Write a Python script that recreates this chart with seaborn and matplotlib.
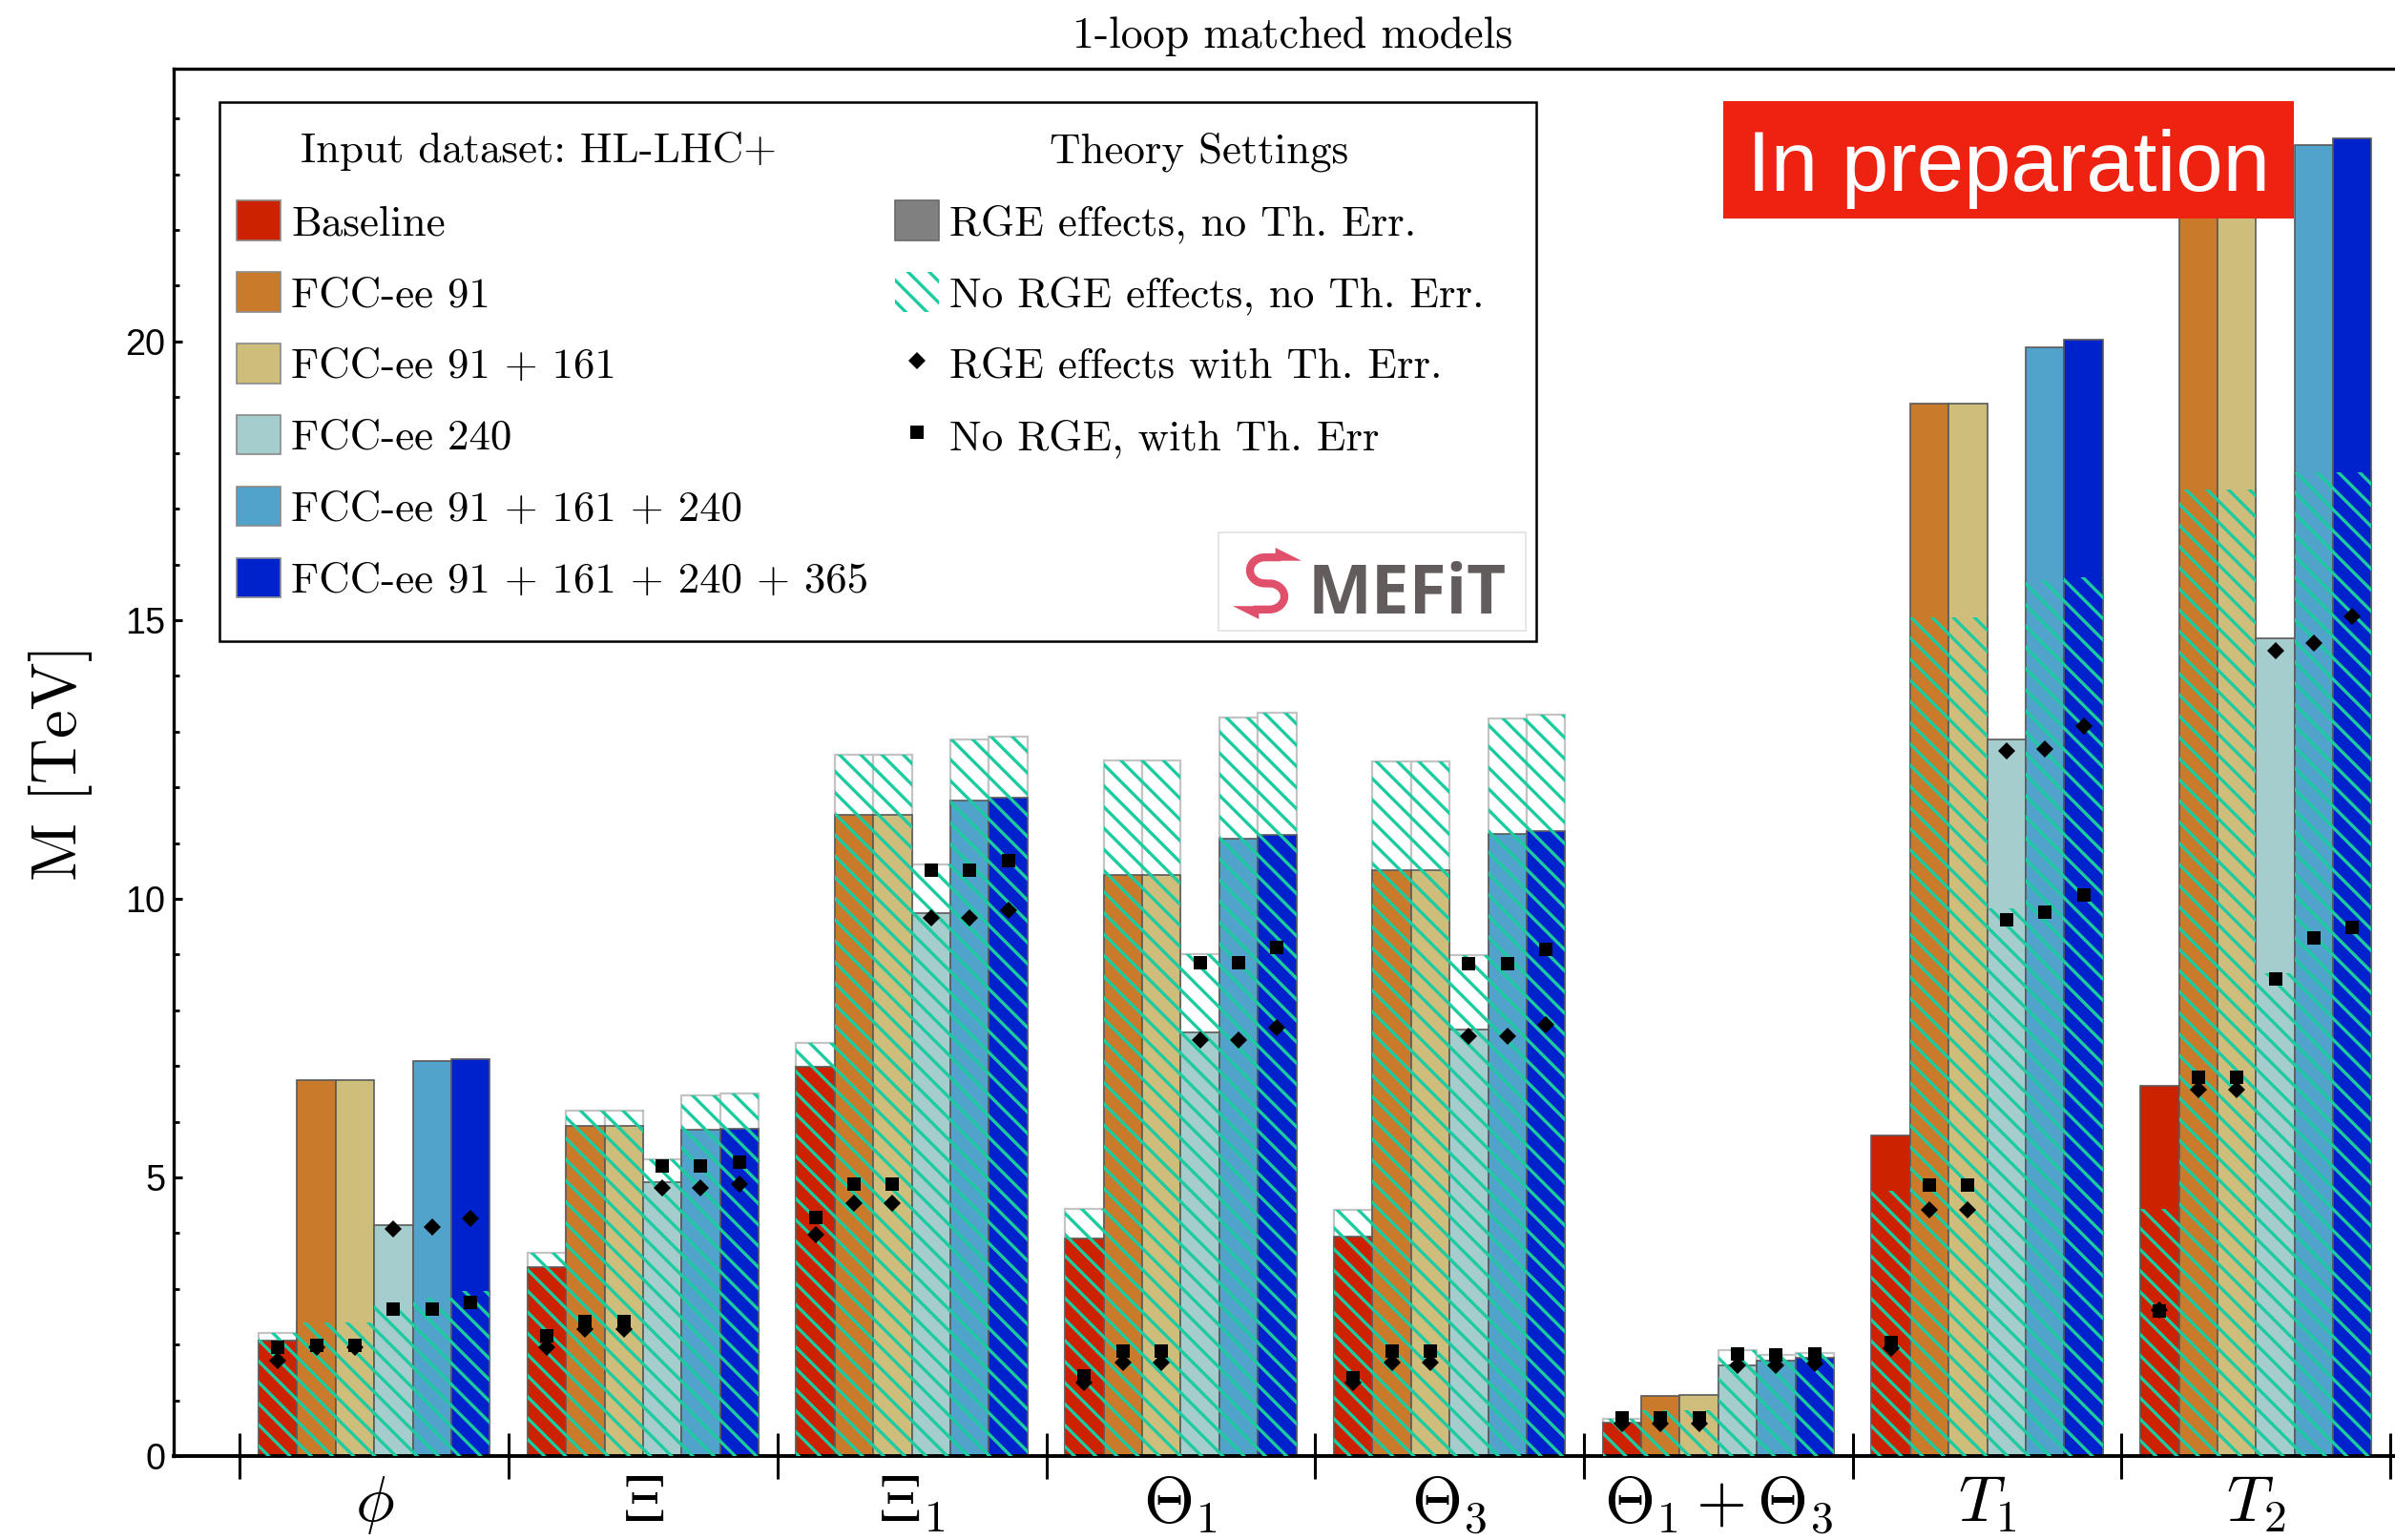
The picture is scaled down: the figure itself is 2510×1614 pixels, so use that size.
import numpy as np
import pandas as pd
import matplotlib
matplotlib.use("Agg")
import matplotlib.pyplot as plt
from matplotlib.patches import Patch, Rectangle, Polygon
from matplotlib.lines import Line2D
from matplotlib.ticker import MultipleLocator, FixedLocator, NullFormatter
import seaborn as sns

# ---------------------------------------------------------------- data ----
models = [r"$\phi$", r"$\Xi$", r"$\Xi_1$", r"$\Theta_1$", r"$\Theta_3$",
          r"$\Theta_1 + \Theta_3$", r"$T_1$", r"$T_2$"]
datasets = ["Baseline", "FCC-ee 91", "FCC-ee 91 + 161", "FCC-ee 240",
            "FCC-ee 91 + 161 + 240", "FCC-ee 91 + 161 + 240 + 365"]
dataset_colors = ["#CC2200", "#C97A2A", "#CFBD7B", "#A6CDCD", "#52A3CB", "#0022CC"]

# 95% CL lower bounds on the heavy mass M [TeV]; one row per model,
# one entry per input dataset (order as in `datasets`)
rge_no_err = [
    [2.08, 6.75, 6.75, 4.15, 7.09, 7.13],
    [3.39, 5.92, 5.92, 4.92, 5.86, 5.87],
    [6.99, 11.51, 11.51, 9.74, 11.76, 11.81],
    [3.91, 10.43, 10.43, 7.60, 11.07, 11.14],
    [3.93, 10.51, 10.51, 7.66, 11.16, 11.22],
    [0.60, 1.08, 1.10, 1.62, 1.71, 1.76],
    [5.75, 18.88, 18.88, 12.86, 19.89, 20.03],
    [6.64, 22.80, 22.80, 14.67, 23.53, 23.64],
]
norge_no_err = [
    [2.21, 2.40, 2.40, 2.71, 2.85, 2.97],
    [3.64, 6.19, 6.19, 5.32, 6.47, 6.50],
    [7.41, 12.58, 12.58, 10.62, 12.86, 12.91],
    [4.43, 12.49, 12.49, 9.01, 13.25, 13.33],
    [4.41, 12.47, 12.47, 8.99, 13.23, 13.31],
    [0.67, 0.82, 0.83, 1.90, 1.82, 1.85],
    [4.76, 15.05, 15.05, 9.82, 15.71, 15.77],
    [4.43, 17.34, 17.34, 8.66, 17.66, 17.66],
]
rge_with_err = [
    [1.72, 1.95, 1.95, 4.07, 4.11, 4.27],
    [1.96, 2.27, 2.27, 4.81, 4.81, 4.88],
    [3.98, 4.53, 4.53, 9.65, 9.65, 9.79],
    [1.31, 1.67, 1.67, 7.47, 7.47, 7.69],
    [1.31, 1.67, 1.67, 7.53, 7.53, 7.74],
    [0.58, 0.58, 0.58, 1.62, 1.62, 1.66],
    [1.93, 4.41, 4.41, 12.65, 12.69, 13.10],
    [2.62, 6.57, 6.57, 14.45, 14.59, 15.06],
]
norge_with_err = [
    [1.96, 1.98, 1.98, 2.63, 2.63, 2.76],
    [2.15, 2.41, 2.41, 5.21, 5.21, 5.28],
    [4.28, 4.88, 4.88, 10.52, 10.52, 10.68],
    [1.43, 1.89, 1.89, 8.85, 8.85, 9.13],
    [1.40, 1.89, 1.89, 8.84, 8.84, 9.10],
    [0.68, 0.68, 0.68, 1.83, 1.82, 1.84],
    [2.04, 4.87, 4.87, 9.63, 9.76, 10.06],
    [2.60, 6.80, 6.80, 8.56, 9.29, 9.48],
]

rows = []
for i, model in enumerate(models):
    for j, ds in enumerate(datasets):
        rows.append(dict(model=model, dataset=ds,
                         rge=rge_no_err[i][j], norge=norge_no_err[i][j],
                         rge_err=rge_with_err[i][j], norge_err=norge_with_err[i][j]))
df = pd.DataFrame(rows)

# ---------------------------------------------------------------- style ---
plt.rcParams.update({
    "font.family": "cmr10",
    "mathtext.fontset": "cm",
    "axes.unicode_minus": False,
    "axes.formatter.use_mathtext": True,
    "hatch.linewidth": 1.2,
})

HATCH = "#1CCB9F"
HATCH_PATTERN = "\\\\\\"
SPAN = 0.86          # total width of one model group
W, H, DPI = 2510, 1614, 200
D_SIZE, S_SIZE = 4.4, 5.0


def px(x0, y0, x1, y1):
    """Figure-fraction rectangle from pixel corners (origin top-left)."""
    return [x0 / W, 1 - y1 / H, (x1 - x0) / W, (y1 - y0) / H]


fig = plt.figure(figsize=(W / DPI, H / DPI), dpi=DPI)
ax = fig.add_axes(px(181.7, 71.7, W, 1526))

common = dict(data=df, x="model", order=models, hue="dataset", hue_order=datasets,
              width=SPAN, gap=0, dodge=True, errorbar=None, saturation=1,
              legend=False, ax=ax)

# white backing for the no-RGE bounds (visible where they exceed the RGE bars)
sns.barplot(y="norge", palette=["white"] * len(datasets),
            edgecolor="#c4c4c4", linewidth=0.8, zorder=1, **common)
# solid bars: RGE effects, no theory error
sns.barplot(y="rge", palette=dataset_colors,
            edgecolor="#5a5a5a", linewidth=0.6, zorder=2, **common)
# hatched overlay: no RGE effects, no theory error
n_before = len(ax.patches)
sns.barplot(y="norge", palette=["white"] * len(datasets),
            linewidth=0, zorder=3, **common)
for p in ax.patches[n_before:]:
    p.set_facecolor("none")
    p.set_edgecolor(HATCH)
    p.set_linewidth(0)
    p.set_hatch(HATCH_PATTERN)

# markers: bounds including theory errors
dodge = SPAN * (len(datasets) - 1) / len(datasets)
marker_common = dict(data=df, x="model", order=models, hue="dataset", hue_order=datasets,
                     palette=["black"] * len(datasets), linestyles="none", dodge=dodge,
                     errorbar=None, legend=False, markeredgewidth=0, ax=ax)
sns.pointplot(y="rge_err", markers="D", markersize=D_SIZE, zorder=6, **marker_common)
sns.pointplot(y="norge_err", markers="s", markersize=S_SIZE, zorder=6, **marker_common)

# ---------------------------------------------------------------- axes ----
ax.set_xlim(-0.747, 7.517)
ax.set_ylim(0, 24.9)
ax.set_xlabel("")
ax.set_ylabel("M [TeV]", fontsize=24)
ax.yaxis.set_label_coords(-0.0506, 0.5)
ax.yaxis.label.set_va("center")

ax.xaxis.set_major_locator(FixedLocator(np.arange(-0.5, len(models), 1.0)))
ax.xaxis.set_major_formatter(NullFormatter())
ax.xaxis.set_minor_locator(FixedLocator(np.arange(len(models))))
ax.set_xticklabels(models, minor=True, fontsize=24.5)
ax.tick_params(axis="x", which="major", direction="inout", length=17, width=1.1,
               bottom=True, top=False)
ax.tick_params(axis="x", which="minor", length=0, pad=7, bottom=True, top=False)

ax.yaxis.set_major_locator(MultipleLocator(5))
ax.yaxis.set_minor_locator(MultipleLocator(1))
ax.tick_params(axis="y", which="major", direction="in", length=3.3, width=1.1,
               pad=3.1, left=True, right=False)
ax.tick_params(axis="y", which="minor", direction="in", length=2.0, width=1.0,
               left=True, right=False)
for lab in ax.get_yticklabels():
    lab.set_fontfamily("Liberation Sans")
    lab.set_fontsize(13.6)

ax.spines["right"].set_visible(False)
for side, lw in (("top", 1.2), ("left", 1.2), ("bottom", 1.4)):
    ax.spines[side].set_linewidth(lw)
    ax.spines[side].set_color("black")

# ---------------------------------------------------------------- legend --
fs = 16.2
frame = px(230, 106.7, 1609.5, 671.6)
ax.add_patch(Rectangle((frame[0], frame[1]), frame[2], frame[3],
                       transform=fig.transFigure, facecolor="white",
                       edgecolor="black", linewidth=0.9, zorder=9, clip_on=False))

blank = Patch(facecolor="none", edgecolor="none")
handles = [blank] + [Patch(facecolor=c, edgecolor="#8a8a8a", linewidth=0.6)
                     for c in dataset_colors]
labels = [" "] + datasets
handles += [blank,
            Patch(facecolor="#808080", edgecolor="#6a6a6a", linewidth=0.6),
            Patch(facecolor="white", edgecolor=HATCH, linewidth=0, hatch=HATCH_PATTERN),
            Line2D([], [], marker="D", color="black", linestyle="none",
                   markersize=D_SIZE, markeredgewidth=0),
            Line2D([], [], marker="s", color="black", linestyle="none",
                   markersize=S_SIZE, markeredgewidth=0),
            blank, blank]
labels += [" ", "RGE effects, no Th. Err.", "No RGE effects, no Th. Err.",
           "RGE effects with Th. Err.", "No RGE, with Th. Err", " ", " "]
leg = ax.legend(handles, labels, ncol=2, loc="upper left",
                bbox_to_anchor=(248 / W, 1 - 135 / H), bbox_transform=fig.transFigure,
                borderaxespad=0, borderpad=0, frameon=False,
                prop=dict(family="cmr10", size=fs),
                handlelength=1.02, handleheight=1.05, handletextpad=0.25,
                columnspacing=0.61, labelspacing=0.66)
leg.set_zorder(10)

fig.text(315 / W, 1 - 170 / H, "Input dataset: HL-LHC+", fontsize=fs,
         family="cmr10", va="baseline", ha="left", zorder=12)
fig.text(1100.5 / W, 1 - 170 / H, "Theory Settings", fontsize=fs,
         family="cmr10", va="baseline", ha="left", zorder=12)

# title
fig.text(1355 / W, 1 - 50 / H, "1-loop matched models", fontsize=16.5,
         family="cmr10", ha="center", va="baseline")

# "In preparation" banner
banner = px(1806, 105.7, 2404, 228.7)
fig.add_artist(Rectangle((banner[0], banner[1]), banner[2], banner[3],
                         transform=fig.transFigure, facecolor="#EE2211",
                         edgecolor="none", zorder=4))
fig.text(2105 / W, 1 - 200 / H, "In preparation", fontsize=32, color="white",
         family="Liberation Sans", ha="center", va="baseline", zorder=5)

# SMEFiT logo
LOGO_RED = "#E0506A"
logo = px(1276.7, 558, 1599, 661)
fig.add_artist(Rectangle((logo[0], logo[1]), logo[2], logo[3],
                         transform=fig.transFigure, facecolor="white",
                         edgecolor="#e2e2e2", linewidth=0.6, zorder=13))
fig.text(1371 / W, 1 - 643 / H, "MEFiT", fontsize=25.5, color="#625D5C",
         family="Open Sans", weight="bold", ha="left", va="baseline", zorder=14)
icon = fig.add_axes(px(1292, 574, 1364, 646))
icon.set_zorder(14)
icon.set_xlim(0, 1)
icon.set_ylim(0, 1)
icon.axis("off")
t_up = np.linspace(np.pi / 2, 3 * np.pi / 2, 80)
t_lo = np.linspace(np.pi / 2, -np.pi / 2, 80)
sx = np.concatenate([[0.70], 0.47 + 0.22 * np.cos(t_up), 0.53 + 0.22 * np.cos(t_lo), [0.30]])
sy = np.concatenate([[0.86], 0.67 + 0.19 * np.sin(t_up), 0.29 + 0.19 * np.sin(t_lo), [0.10]])
icon.plot(sx, sy, color=LOGO_RED, lw=3.0, solid_capstyle="butt")
icon.add_patch(Polygon([[0.62, 0.81], [1.0, 0.81], [0.62, 1.0]], closed=True,
                       facecolor=LOGO_RED, edgecolor="none"))
icon.add_patch(Polygon([[0.38, 0.15], [0.0, 0.15], [0.38, -0.04]], closed=True,
                       facecolor=LOGO_RED, edgecolor="none", clip_on=False))

fig.savefig("out.png", dpi=DPI)
